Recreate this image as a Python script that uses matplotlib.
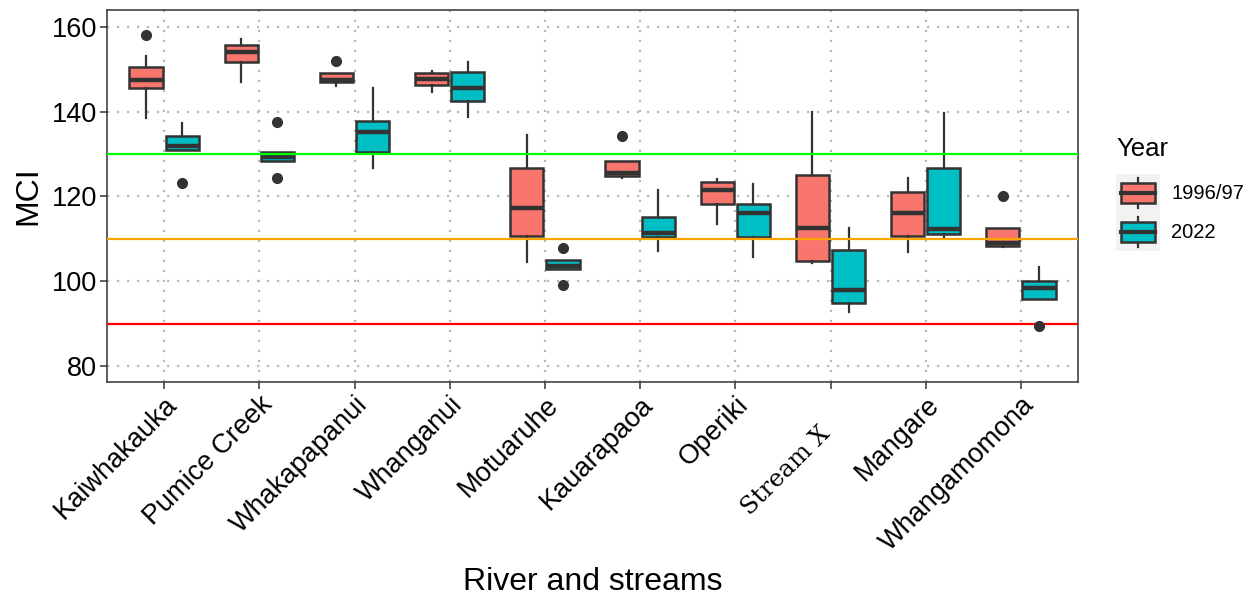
import numpy as np
import matplotlib
matplotlib.use('Agg')
import matplotlib.pyplot as plt
from matplotlib.patches import Patch, Rectangle
from matplotlib.lines import Line2D
from matplotlib.legend_handler import HandlerBase
from matplotlib.transforms import ScaledTranslation

sites = ['Kaiwhakauka', 'Pumice Creek', 'Whakapapanui', 'Whanganui', 'Motuaruhe',
         'Kauarapaoa', 'Operiki', 'Stream X', 'Mangare', 'Whangamomona']
years = ['1996/97', '2022']

lo_96 = [138.5, 147.1, 146.1, 144.6, 104.6, 124.4, 113.4, 104.2, 106.8, 108.0]
q1_96 = [145.5, 151.8, 146.9, 146.2, 110.7, 124.9, 118.2, 104.8, 110.7, 108.4]
med_96 = [147.4, 154.2, 147.5, 147.7, 117.2, 125.6, 121.5, 112.5, 116.2, 109.1]
q3_96 = [150.5, 155.7, 149.2, 149.1, 126.7, 128.4, 123.5, 125.1, 121.1, 112.6]
hi_96 = [153.2, 157.1, 149.2, 149.5, 134.5, 128.4, 124.1, 140.0, 124.3, 112.6]
out_96 = [[158.1], [], [152.0], [], [], [134.3], [], [], [], [120.0]]

lo_22 = [131.0, 128.4, 126.8, 138.7, 102.9, 107.2, 105.8, 92.7, 110.4, 95.8]
q1_22 = [131.0, 128.4, 130.6, 142.6, 102.9, 110.4, 110.4, 94.9, 111.1, 95.8]
med_22 = [131.8, 129.4, 135.1, 145.7, 103.5, 111.3, 116.2, 97.9, 112.3, 98.3]
q3_22 = [134.3, 130.4, 137.9, 149.3, 104.9, 115.1, 118.2, 107.4, 126.8, 100.1]
hi_22 = [137.4, 130.4, 145.5, 151.8, 104.9, 121.5, 122.9, 112.5, 139.8, 103.3]
out_22 = [[123.1], [137.5, 124.3], [], [], [107.9, 99.1], [], [], [], [], [89.4]]

thresholds = [130, 110, 90]
threshold_colors = ['#00FF00', '#FFA500', '#FF0000']

PINK = '#F8766D'
TEAL = '#00BFC4'
EDGE = '#333333'

plt.rcParams['font.family'] = ['Liberation Sans', 'DejaVu Sans']


def stats(lo, q1, med, q3, hi, out):
    return [dict(whislo=a, q1=b, med=c, q3=d, whishi=e, fliers=np.array(f))
            for a, b, c, d, e, f in zip(lo, q1, med, q3, hi, out)]


class BoxKey(HandlerBase):
    def create_artists(self, legend, orig_handle, xdescent, ydescent,
                       width, height, fontsize, trans):
        x0, y0 = -xdescent, -ydescent
        bg = Rectangle((x0, y0), width, height, facecolor='#f2f2f2',
                       edgecolor='none', transform=trans)
        cx = x0 + width / 2
        wh = Line2D([cx, cx], [y0 + 0.12 * height, y0 + 0.88 * height],
                    color=EDGE, lw=1.6, transform=trans)
        box = Rectangle((x0 + 0.11 * width, y0 + 0.25 * height), 0.78 * width,
                        0.5 * height, facecolor=orig_handle.get_facecolor(),
                        edgecolor=EDGE, lw=1.8, transform=trans)
        med = Line2D([x0 + 0.11 * width, x0 + 0.89 * width],
                     [y0 + height / 2] * 2, color=EDGE, lw=3, transform=trans)
        return [bg, wh, box, med]


fig, ax = plt.subplots(figsize=(12.56, 5.98), dpi=100)
fig.subplots_adjust(left=0.0852, right=0.8583, top=0.9833, bottom=0.3612)

x = np.arange(1, len(sites) + 1)
for s, offs, col in [(stats(lo_96, q1_96, med_96, q3_96, hi_96, out_96), -0.19, PINK),
                     (stats(lo_22, q1_22, med_22, q3_22, hi_22, out_22), 0.19, TEAL)]:
    ax.bxp(s, positions=x + offs, widths=0.35, patch_artist=True, showcaps=False,
           boxprops=dict(facecolor=col, edgecolor=EDGE, lw=1.8),
           medianprops=dict(color=EDGE, lw=3.2, solid_capstyle='butt'),
           whiskerprops=dict(color=EDGE, lw=1.6),
           flierprops=dict(marker='o', markerfacecolor=EDGE, markeredgecolor=EDGE,
                           markersize=7, zorder=4),
           manage_ticks=False)

for yv, c in zip(thresholds, threshold_colors):
    ax.axhline(yv, color=c, lw=1.6, zorder=3)

ax.set_xlim(0.4, 10.6)
ax.set_ylim(76.2, 164)
ax.set_yticks([80, 100, 120, 140, 160])
ax.set_xticks(x)
ax.set_xticklabels(sites, rotation=45, ha='right', rotation_mode='anchor')
ax.grid(True, linestyle=(0, (1, 3.5)), color='#b8b8b8', lw=1.6)
ax.set_axisbelow(True)
for sp in ax.spines.values():
    sp.set_color(EDGE)
    sp.set_linewidth(1.1)
ax.tick_params(length=5, width=1.1, color=EDGE, labelsize=19.5, labelcolor='black', pad=2)

lab = ax.get_xticklabels()[7]
lab.set_fontfamily('DejaVu Serif')
lab.set_fontsize(17.5)
lab.set_transform(lab.get_transform() + ScaledTranslation(-0.12, -0.3, fig.dpi_scale_trans))

ax.set_xlabel('River and streams', fontsize=23, labelpad=8)
ax.set_ylabel('MCI', fontsize=23, labelpad=6)

handles = [Patch(facecolor=PINK), Patch(facecolor=TEAL)]
leg = ax.legend(handles, years, handler_map={Patch: BoxKey()}, title='Year',
                title_fontsize=18.5, fontsize=14.5, frameon=False, loc='upper left',
                bbox_to_anchor=(1116 / 1256, 1 - 137 / 598), bbox_transform=fig.transFigure,
                borderpad=0, borderaxespad=0, labelspacing=0, handlelength=2.2,
                handleheight=2.6, handletextpad=0.55, alignment='left')
leg._legend_box.sep = 9

fig.savefig('out.png', dpi=100)
